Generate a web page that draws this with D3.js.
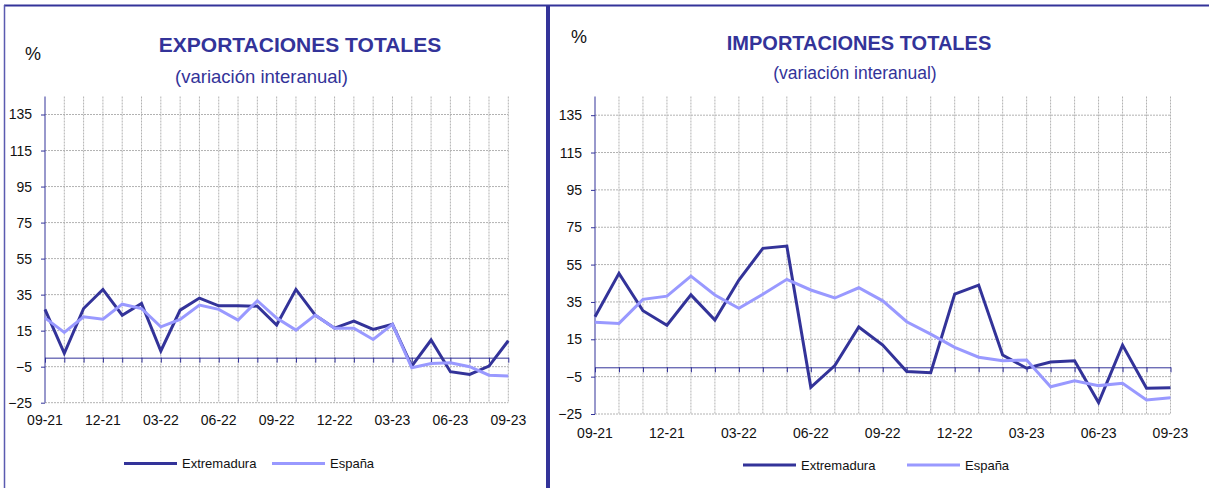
<!DOCTYPE html>
<html>
<head>
<meta charset="utf-8">
<script src="https://cdn.jsdelivr.net/npm/d3@7"></script>
<style>
  html, body { margin: 0; padding: 0; background: #fff; }
  svg { display: block; font-family: Arial, "Liberation Sans", sans-serif; }
</style>
</head>
<body>
<svg id="chart" width="1209" height="488"></svg>
<script>
// ---------- data ----------
const months = ["09-21","10-21","11-21","12-21","01-22","02-22","03-22","04-22","05-22","06-22","07-22","08-22",
                "09-22","10-22","11-22","12-22","01-23","02-23","03-23","04-23","05-23","06-23","07-23","08-23","09-23"];
const tickLabels = ["09-21","12-21","03-22","06-22","09-22","12-22","03-23","06-23","09-23"];
const yTicks = [-25, -5, 15, 35, 55, 75, 95, 115, 135];
const seriesNames = ["Extremadura", "España"];

const exportsExtremadura = [26.8, 2.4, 27.3, 37.9, 23.6, 30.1, 3.7, 26.4, 33.1, 28.8, 28.8, 28.6,
                            18.1, 37.9, 23.6, 16.4, 20.3, 15.7, 18.5, -4.7, 9.8, -7.8, -9.3, -4.7, 9.4];
const exportsEspana      = [22.1, 14.0, 22.7, 21.4, 29.7, 27.3, 17.1, 21.2, 29.2, 26.8, 20.9, 31.6,
                            22.0, 15.3, 23.6, 16.4, 16.4, 10.1, 18.5, -5.6, -3.2, -2.8, -5.0, -9.7, -10.2];
const importsExtremadura = [27.1, 50.3, 30.3, 22.5, 38.8, 25.3, 46.7, 63.7, 64.9, -10.7, 0.9, 21.6,
                            11.9, -2.3, -2.9, 39.2, 44.0, 6.6, -0.5, 2.8, 3.5, -18.9, 11.9, -11.2, -10.9];
const importsEspana      = [24.1, 23.5, 36.4, 38.1, 48.8, 38.7, 31.6, 39.1, 47.1, 41.4, 37.1, 42.6,
                            35.6, 24.4, 17.8, 10.7, 5.4, 3.5, 3.9, -10.4, -7.2, -9.8, -8.6, -17.5, -16.3];

// ---------- style ----------
const DARK = "#333399", LIGHT = "#9999ff", AXIS = "#333399", GRID = "#b2b2b2";
const svg = d3.select("#chart");

// frame
svg.append("line").attr("x1", 4).attr("x2", 1209).attr("y1", 5.5).attr("y2", 5.5)
   .attr("stroke", DARK).attr("stroke-width", 2);
svg.append("line").attr("x1", 4.5).attr("x2", 4.5).attr("y1", 5).attr("y2", 488)
   .attr("stroke", "#5a5ab0").attr("stroke-width", 1.5);
svg.append("line").attr("x1", 548).attr("x2", 548).attr("y1", 5).attr("y2", 488)
   .attr("stroke", DARK).attr("stroke-width", 4);

function panel(cfg) {
  const g = svg.append("g");
  const x = d3.scalePoint().domain(months).range([cfg.x0, cfg.x1]);
  const y = d3.scaleLinear().domain([-25, 145]).range([cfg.yBottom, cfg.yTop]);

  // grid
  g.append("g").selectAll("line").data(yTicks).join("line")
    .attr("x1", cfg.x0).attr("x2", cfg.x1).attr("y1", d => y(d)).attr("y2", d => y(d))
    .attr("stroke", GRID).attr("stroke-width", 1).attr("stroke-dasharray", "2,1");
  g.append("g").selectAll("line").data(months.slice(1)).join("line")
    .attr("x1", d => x(d)).attr("x2", d => x(d)).attr("y1", cfg.yTop).attr("y2", cfg.yBottom)
    .attr("stroke", GRID).attr("stroke-width", 1).attr("stroke-dasharray", "2,1");

  // y axis
  const ya = g.append("g").attr("transform", `translate(${cfg.x0},0)`)
    .call(d3.axisLeft(y).tickValues(yTicks).tickSize(4).tickSizeOuter(0).tickPadding(9));
  ya.select(".domain").attr("stroke", AXIS).attr("d", `M0,${cfg.yTop}V${cfg.yBottom}`);
  ya.selectAll(".tick line").attr("stroke", AXIS);
  ya.selectAll("text").attr("fill", "#111").style("font-size", "14px")
    .style("font-family", "Arial, 'Liberation Sans', sans-serif");

  // x axis at zero
  const xa = g.append("g").attr("transform", `translate(0,${y(0)})`)
    .call(d3.axisBottom(x).tickSize(5).tickSizeOuter(0).tickFormat(""));
  xa.select(".domain").attr("stroke", AXIS);
  xa.selectAll(".tick line").attr("stroke", AXIS);

  // x labels at bottom
  g.append("g").selectAll("text").data(tickLabels).join("text")
    .attr("x", d => x(d)).attr("y", cfg.labelY).attr("text-anchor", "middle")
    .attr("fill", "#111").style("font-size", "14px").text(d => d);

  // lines
  const line = d3.line().x((d, i) => x(months[i])).y(d => y(d));
  [[cfg.dark, DARK], [cfg.light, LIGHT]].forEach(([vals, col]) => {
    g.append("path").datum(vals).attr("d", line).attr("fill", "none")
      .attr("stroke", col).attr("stroke-width", 3).attr("stroke-linejoin", "miter");
  });

  // titles
  g.append("text").attr("x", cfg.pctX).attr("y", cfg.pctY).attr("text-anchor", "middle")
    .attr("fill", "#111").style("font-size", "18px").text("%");
  g.append("text").attr("x", cfg.titleX).attr("y", cfg.titleY).attr("text-anchor", "middle")
    .attr("fill", DARK).style("font-size", cfg.titleSize).style("font-weight", "bold").text(cfg.title);
  g.append("text").attr("x", cfg.subX).attr("y", cfg.subY).attr("text-anchor", "middle")
    .attr("fill", DARK).style("font-size", cfg.subSize).text("(variación interanual)");

  // legend
  const cols = [DARK, LIGHT];
  cfg.legend.forEach((lx, i) => {
    g.append("line").attr("x1", lx).attr("x2", lx + 53).attr("y1", cfg.legY).attr("y2", cfg.legY)
      .attr("stroke", cols[i]).attr("stroke-width", 3);
    g.append("text").attr("x", lx + 58).attr("y", cfg.legY + 4.5).attr("fill", "#111")
      .style("font-size", "13px").text(seriesNames[i]);
  });
}

panel({
  x0: 45, x1: 508.3, yTop: 96.5, yBottom: 402.7, labelY: 425,
  dark: exportsExtremadura, light: exportsEspana,
  title: "EXPORTACIONES TOTALES", titleX: 300, titleY: 52, titleSize: "21px",
  subX: 261.5, subY: 83, subSize: "18.5px", pctX: 33, pctY: 60,
  legend: [124, 272], legY: 463.5
});
panel({
  x0: 595, x1: 1170.5, yTop: 96.5, yBottom: 414, labelY: 438,
  dark: importsExtremadura, light: importsEspana,
  title: "IMPORTACIONES TOTALES", titleX: 859, titleY: 50, titleSize: "20px",
  subX: 855, subY: 79, subSize: "17.5px", pctX: 579, pctY: 43,
  legend: [743, 907], legY: 465
});
</script>
</body>
</html>
